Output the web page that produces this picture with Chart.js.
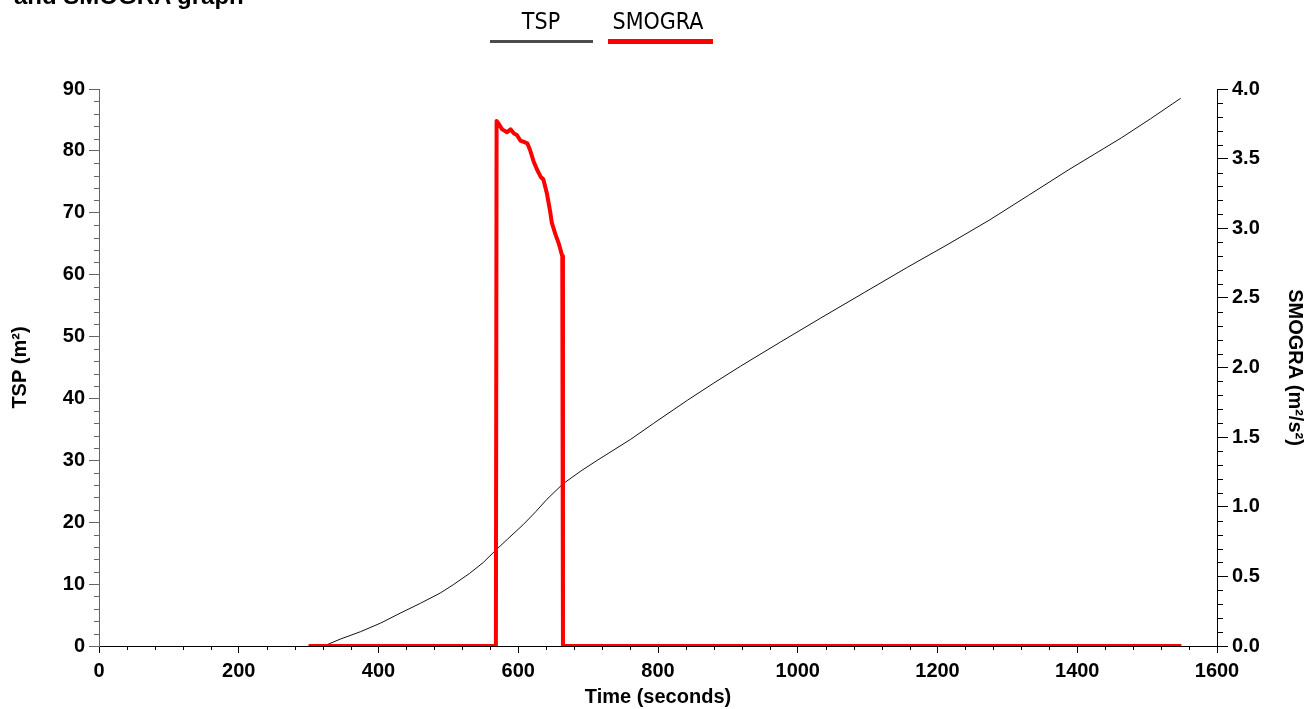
<!DOCTYPE html>
<html>
<head>
<meta charset="utf-8">
<script src="https://cdn.jsdelivr.net/npm/chart.js@4.4.1/dist/chart.umd.min.js"></script>
<style>
  body { margin: 0; background: #fff; overflow: hidden; }
  #wrap { position: relative; width: 1308px; height: 709px; }
  #chart { position: absolute; left: 0; top: 0; }
  .title { position: absolute; left: 14px; top: -16px; font: bold 24px/24px Arial, "Liberation Sans", sans-serif; color: #000; white-space: nowrap; }
  .legText { position: absolute; top: 10px; font: 23px/23px "DejaVu Sans Condensed", "DejaVu Sans", sans-serif; font-stretch: condensed; color: #000; text-align: center; }
  .legLine { position: absolute; }
</style>
</head>
<body>
<div id="wrap">
  <canvas id="chart" width="1308" height="709"></canvas>
  <div class="title">and SMOGRA graph</div>
  <div class="legText" style="left:491px;width:100px;">TSP</div>
  <div class="legLine" style="left:490px;top:40px;width:103px;height:3px;background:#4d4d4d;"></div>
  <div class="legText" style="left:603px;width:110px;">SMOGRA</div>
  <div class="legLine" style="left:608px;top:39px;width:105px;height:5px;background:#ff0000;"></div>
</div>
<script>
// TSP (m²) against time (s)
const tspTime  = [300, 322, 345, 374, 403, 431, 460, 489, 507, 530, 550, 567, 585, 607, 625, 641, 664, 690, 713, 737, 761, 794, 842, 880, 918, 975, 1033, 1095, 1157, 1215, 1274, 1330, 1387, 1425, 1463, 1505, 1548];
const tspValue = [0, 0, 1.1, 2.3, 3.7, 5.3, 6.9, 8.6, 9.9, 11.7, 13.5, 15.4, 17.3, 19.6, 21.7, 23.7, 26.2, 28.3, 30.0, 31.7, 33.4, 36.0, 39.7, 42.5, 45.2, 49.1, 53.0, 57.1, 61.2, 64.9, 68.8, 72.8, 76.9, 79.5, 82.1, 85.2, 88.5];

// SMOGRA (m²/s²) against time (s)
const smograTime  = [300, 568, 569, 572, 577, 584, 589, 594, 598, 603, 608, 613, 617, 622, 627, 632, 636, 641, 646, 648, 653, 658, 663, 664, 1549];
const smograValue = [0, 0, 3.77, 3.75, 3.71, 3.69, 3.71, 3.68, 3.67, 3.63, 3.62, 3.61, 3.56, 3.48, 3.42, 3.37, 3.35, 3.25, 3.11, 3.04, 2.96, 2.89, 2.80, 0, 0];

const xTicks = [0, 200, 400, 600, 800, 1000, 1200, 1400, 1600];
const tspTicks = [0, 10, 20, 30, 40, 50, 60, 70, 80, 90];
const smograTicks = [0, 0.5, 1.0, 1.5, 2.0, 2.5, 3.0, 3.5, 4.0];

const tspPoints = tspTime.map((t, i) => ({x: t, y: tspValue[i]}));
const smograPoints = smograTime.map((t, i) => ({x: t, y: smograValue[i]}));

const axisFont = {family: 'Arial, "Liberation Sans", sans-serif', size: 20, weight: 'bold'};

// short minor ticks between the labelled ones
const minorTicks = {
  id: 'minorTicks',
  afterDraw(chart) {
    const ctx = chart.ctx;
    const sx = chart.scales.x, sl = chart.scales.y, sr = chart.scales.y1;
    ctx.save();
    ctx.lineWidth = 1;
    ctx.strokeStyle = '#000';
    ctx.beginPath();
    for (let v = 40; v < 1600; v += 40) {
      if (v % 200 === 0) continue;
      const px = Math.round(sx.getPixelForValue(v)) + 0.5;
      ctx.moveTo(px, sx.top);
      ctx.lineTo(px, sx.top + 4);
    }
    ctx.stroke();
    ctx.strokeStyle = '#666';
    ctx.beginPath();
    for (let v = 2; v < 90; v += 2) {
      if (v % 10 === 0) continue;
      const py = Math.round(sl.getPixelForValue(v)) + 0.5;
      ctx.moveTo(sl.right, py);
      ctx.lineTo(sl.right - 5, py);
    }
    ctx.stroke();
    ctx.strokeStyle = '#000';
    ctx.beginPath();
    for (let i = 1; i < 40; i++) {
      if (i % 5 === 0) continue;
      const py = Math.round(sr.getPixelForValue(i / 10)) + 0.5;
      ctx.moveTo(sr.left, py);
      ctx.lineTo(sr.left + 6, py);
    }
    ctx.stroke();
    ctx.restore();
  }
};

new Chart(document.getElementById('chart').getContext('2d'), {
  type: 'line',
  data: {
    datasets: [
      {
        label: 'TSP',
        data: tspPoints,
        yAxisID: 'y',
        borderColor: '#111',
        borderWidth: 1,
        pointRadius: 0,
        tension: 0,
        fill: false,
        order: 1
      },
      {
        label: 'SMOGRA',
        data: smograPoints,
        yAxisID: 'y1',
        borderColor: '#ff0000',
        borderWidth: 4,
        borderJoinStyle: 'round',
        pointRadius: 0,
        tension: 0,
        fill: false,
        order: 0
      }
    ]
  },
  options: {
    responsive: false,
    animation: false,
    layout: {padding: {top: 89, left: 0, right: 0, bottom: 0}},
    plugins: {legend: {display: false}, tooltip: {enabled: false}, title: {display: false}},
    scales: {
      x: {
        type: 'linear',
        position: 'bottom',
        min: 0,
        max: 1600,
        afterBuildTicks: s => { s.ticks = xTicks.map(v => ({value: v})); },
        afterFit: s => { s.height = 63; },
        ticks: {font: axisFont, color: '#000', padding: 6, maxRotation: 0, callback: v => String(v)},
        grid: {drawOnChartArea: false, tickLength: 7, color: '#000'},
        border: {color: '#000', width: 1},
        title: {display: true, text: 'Time (seconds)', font: axisFont, color: '#000', padding: {top: 0, bottom: 0}}
      },
      y: {
        type: 'linear',
        position: 'left',
        min: 0,
        max: 90,
        afterBuildTicks: s => { s.ticks = tspTicks.map(v => ({value: v})); },
        afterFit: s => { s.width = 99; },
        ticks: {font: axisFont, color: '#000', padding: 4, callback: v => String(v)},
        grid: {drawOnChartArea: false, tickLength: 10, color: '#666'},
        border: {color: '#666', width: 1},
        title: {display: true, text: 'TSP (m²)', font: axisFont, color: '#000', padding: {top: 8, bottom: 0}}
      },
      y1: {
        type: 'linear',
        position: 'right',
        min: 0,
        max: 4,
        afterBuildTicks: s => { s.ticks = smograTicks.map(v => ({value: v})); },
        afterFit: s => { s.width = 91; },
        ticks: {font: axisFont, color: '#000', padding: 4, callback: v => v.toFixed(1)},
        grid: {drawOnChartArea: false, tickLength: 11, color: '#000'},
        border: {color: '#000', width: 1},
        title: {display: true, text: 'SMOGRA (m²/s²)', font: axisFont, color: '#000', padding: {top: 1, bottom: 0}}
      }
    }
  },
  plugins: [minorTicks]
});
</script>
</body>
</html>
